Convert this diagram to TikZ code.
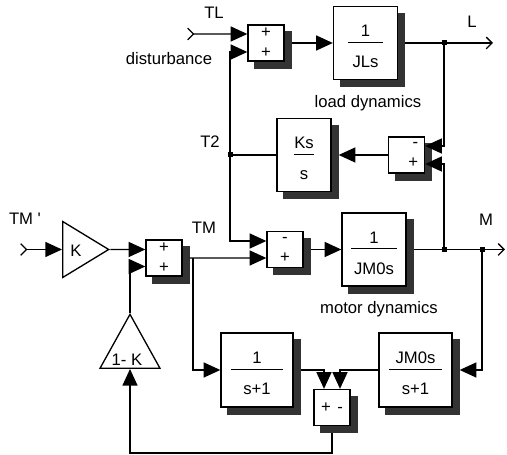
\documentclass[tikz,border=0pt]{standalone}
\usepackage{fontspec}
\setmainfont{Liberation Sans}
\usetikzlibrary{positioning,arrows.meta,shapes.geometric}

% fraction inside a transfer block: numerator, rule, denominator
\newcommand{\blkfrac}[3]{\rule{0pt}{11.4pt}#1\\[-8.4pt]\rule{#3}{0.8pt}\\[3pt]#2}

\begin{document}
\begin{tikzpicture}[x=0.6pt, y=-0.6pt, line width=0.8pt]

%% ── shared styles ─────────────────────────────────────────────────────────
\tikzset{
  sumblk/.style={
    rectangle, draw, fill=white,
    minimum width=21.6pt, minimum height=21.6pt,
    inner sep=1pt, align=center
  },
  tfblk/.style={
    rectangle, draw, fill=white,
    minimum height=43.8pt, inner sep=0pt, align=center
  },
  gainblk/.style={
    isosceles triangle, isosceles triangle stretches,
    draw, fill=white, inner sep=0pt
  },
  shadowbox/.style={rectangle, fill=black!80, draw=black!80, inner sep=0pt},
  jdot/.style={rectangle, fill=black, minimum size=3pt, inner sep=0pt},
  lbl/.style={inner sep=0pt},
  arr/.style   ={-{Triangle[length=10pt,width=9pt]}},
  inarr/.style ={{Straight Barb[reversed,length=3.5pt,width=7pt]}-{Triangle[length=10pt,width=9pt]}},
  outarr/.style={-{Straight Barb[length=3.5pt,width=7pt]}},
}

\useasboundingbox (0,0) rectangle (507,455);

%% ── block shadows (offset 7px down right) ─────────────────────────────────
\node[shadowbox, minimum width=21.6pt, minimum height=21.6pt] (sSL) at (273,50)      {};
\node[shadowbox, minimum width=38.4pt, minimum height=43.8pt] (sJL) at (372.5,50)    {};
\node[shadowbox, minimum width=32.4pt, minimum height=43.8pt] (sKS) at (311,162)     {};
\node[shadowbox, minimum width=21.6pt, minimum height=21.6pt] (sSK) at (413.5,162)   {};
\node[shadowbox, minimum width=21.6pt, minimum height=21.6pt] (sST) at (171,265)     {};
\node[shadowbox, minimum width=21.6pt, minimum height=21.6pt] (sSM) at (292,256.5)   {};
\node[shadowbox, minimum width=38.4pt, minimum height=43.8pt] (sJM) at (381,256.5)   {};
\node[shadowbox, minimum width=43.2pt, minimum height=44.4pt] (sF1) at (264,377)     {};
\node[shadowbox, minimum width=43.8pt, minimum height=44.4pt] (sF2) at (422.5,377)   {};
\node[shadowbox, minimum width=21.6pt, minimum height=21.6pt] (sSF) at (339,414.5)   {};

%% ── load side ─────────────────────────────────────────────────────────────
\node[sumblk]                        (SL) at (266,43)    {+\\+};
\node[tfblk, minimum width=38.4pt]   (JL) at (365.5,43)  {\blkfrac{1}{JLs}{21pt}};
\node[tfblk, minimum width=32.4pt]   (KS) at (304,155)   {\blkfrac{Ks}{s}{12.6pt}};
\node[sumblk, align=right, text width=14pt] (SK) at (406.5,155) {-\\+};

%% ── motor side ────────────────────────────────────────────────────────────
\node[gainblk, minimum width=33.6pt, minimum height=27.6pt, anchor=west]
                                     (GK) at (62,249.5)  {};
\node[sumblk]                        (ST) at (164,258)   {+\\+};
\node[sumblk]                        (SM) at (285,249.5) {-\\+};
\node[tfblk, minimum width=38.4pt]   (JM) at (374,249.5) {\blkfrac{1}{JM0s}{27.6pt}};

%% ── estimator ─────────────────────────────────────────────────────────────
\node[tfblk, minimum width=43.2pt, minimum height=44.4pt]
                                     (F1) at (257,370)   {\blkfrac{1}{s+1}{31.8pt}};
\node[tfblk, minimum width=43.8pt, minimum height=44.4pt]
                                     (F2) at (415.5,370) {\blkfrac{JM0s}{s+1}{31.8pt}};
\node[sumblk]                        (SF) at (332,407.5) {+\hspace{4pt}-};
\node[gainblk, shape border rotate=90, minimum width=36pt, minimum height=32.4pt, anchor=south]
                                     (G1) at (130,369)   {};

%% ── ports and branch points ───────────────────────────────────────────────
\coordinate (inTL) at (187,34);
\coordinate (inTM) at (20,249.5);
\coordinate (outL) at (493,43);
\coordinate (outM) at (505,249.5);
\coordinate (bTM)  at (193,258);
\coordinate (fbk)  at (130,453);

%% ── connectors ────────────────────────────────────────────────────────────
\draw[inarr] (inTL) -- ([yshift=5.4pt]SL.west);
\draw[arr]   (sSL.east |- SL.east) -- (JL.west);
\draw[outarr](sJL.east |- JL.east) -- (444,43) -- (outL);
\draw[arr]   (444,43) |- ([yshift=5.4pt]SK.east);
\draw[arr]   (444,249.5) |- ([yshift=-5.4pt]SK.east);
\draw[arr]   (SK.west) -- (sKS.east |- KS.east);
\draw        (KS.west) -- (230,155);
\draw[arr]   (230,155) |- ([yshift=-5.4pt]SL.west);
\draw[arr]   (230,155) |- ([yshift=5.1pt]SM.west);

\draw[inarr] (inTM) -- (GK.west);
\draw[arr]   (GK.east) -- ([yshift=5.1pt]ST.west);
\draw[arr]   (sST.east |- ST.east) -- ([yshift=-5.1pt]SM.west);
\draw[arr]   (sSM.east |- SM.east) -- (JM.west);
\draw[outarr](sJM.east |- JM.east) -- (outM);

\draw[arr]   (bTM) |- (F1.west);
\draw[arr]   (482,249.5) |- (sF2.east |- F2.east);
\draw[arr]   (sF1.east |- F1.east) -| ([xshift=-4.8pt]SF.north);
\draw[arr]   (F2.west) -| ([xshift=4.8pt]SF.north);
\draw[arr]   (SF.south |- sSF.south) |- (fbk) -- (G1.south);
\draw[arr]   (G1.north) |- ([yshift=-5.1pt]ST.west);

%% ── junction dots ─────────────────────────────────────────────────────────
\node[jdot] (jL)  at (444,43)    {};
\node[jdot] (jT2) at (230,155)   {};
\node[jdot] (jM1) at (444,249.5) {};
\node[jdot] (jM2) at (482,249.5) {};

%% ── texts ─────────────────────────────────────────────────────────────────
\node[lbl] (tTL)  at (214,13)  {TL};
\node[lbl] (tDst) at (169,59)  {disturbance};
\node[lbl] (tL)   at (472,22)  {L};
\node[lbl] (tLd)  at (368,103) {load dynamics};
\node[lbl] (tT2)  at (210,142) {T2};
\node[lbl] (tTMp) at (25,219)  {TM \textquotesingle};
\node[lbl] (tTM)  at (204,228) {TM};
\node[lbl] (tM)   at (486,220) {M};
\node[lbl] (tMd)  at (379,309) {motor dynamics};
\node[lbl] (tK)   at (76,251)  {K};
\node[lbl] (t1K)  at (127,360) {1- K};

\end{tikzpicture}
\end{document}
